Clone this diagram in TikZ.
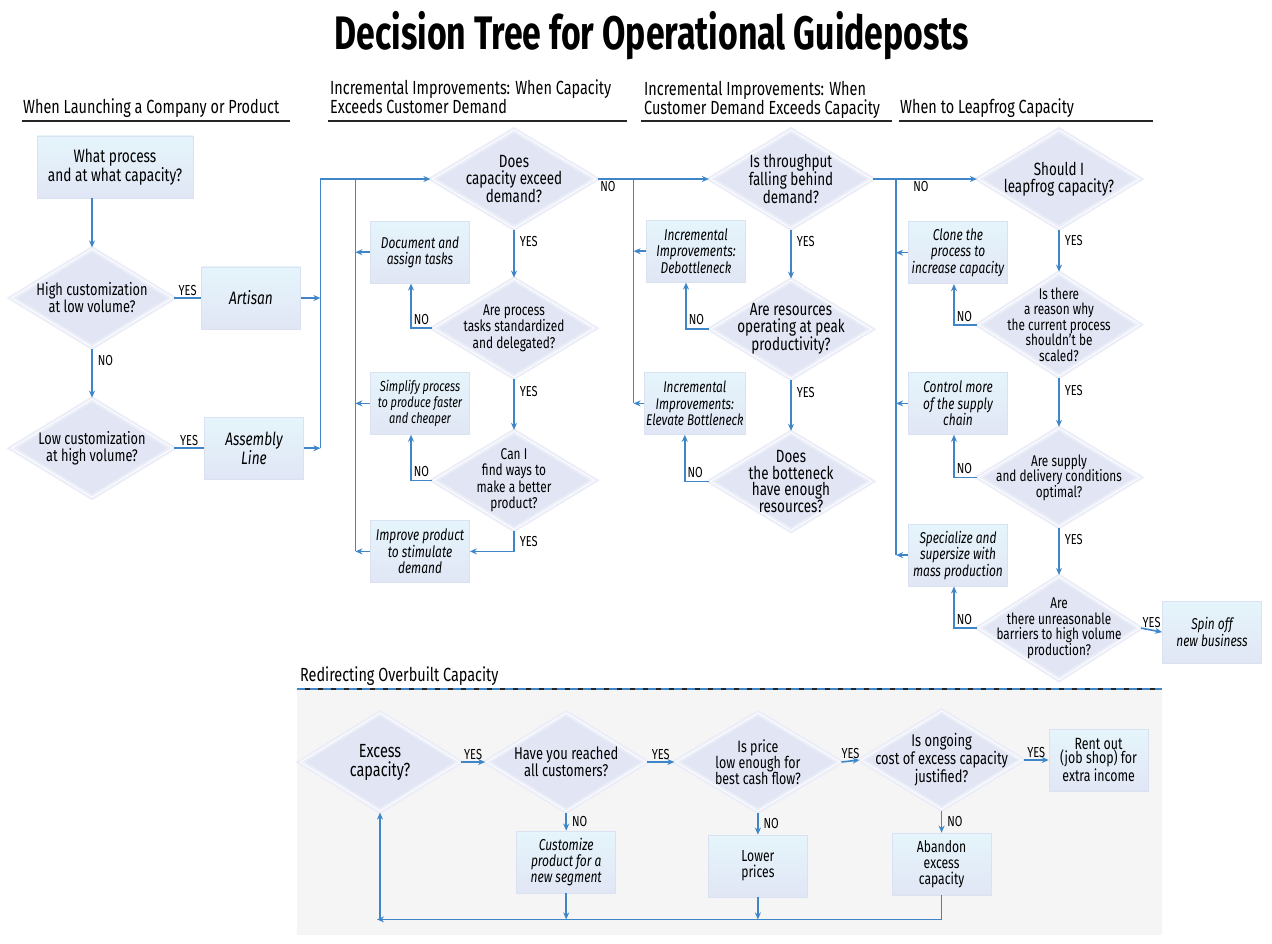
\documentclass[tikz,border=0pt]{standalone}
\usepackage{fontspec}
\setmainfont{Fira Sans}[FakeStretch=0.76]
\newfontfamily\titlefont{Fira Sans}[FakeStretch=0.72]
\usetikzlibrary{arrows.meta, calc, positioning, shapes.geometric}
\definecolor{flowblue}{RGB}{62,134,199}
\definecolor{diafill}{RGB}{226,230,244}
\definecolor{diaedge}{RGB}{235,238,248}
\definecolor{boxtop}{RGB}{229,245,251}
\definecolor{boxbot}{RGB}{225,230,245}
\definecolor{boxedge}{RGB}{218,225,242}
\definecolor{panelgray}{RGB}{245,245,246}
\tikzset{
  question/.style={diamond, aspect=1.65, fill=diafill, draw=diaedge,
    line width=2.2pt, double=white, double distance=0.8pt,
    inner sep=-40pt, minimum width=162pt, minimum height=99pt,
    align=center, font=\fontsize{17.7}{16.5}\selectfont},
  outcome/.style={rectangle, draw=boxedge, line width=0.8pt,
    top color=boxtop, bottom color=boxbot, minimum width=99pt,
    minimum height=62pt, inner sep=2pt, align=center,
    font=\fontsize{16}{16}\selectfont},
  action/.style={outcome, font=\fontsize{15.7}{16.5}\selectfont\itshape},
  reply/.style={inner sep=2pt, font=\fontsize{14.5}{14}\selectfont},
  heading/.style={anchor=south west, inner sep=0pt, align=left,
    font=\fontsize{19}{19}\selectfont},
  rule/.style={draw=black!85, line width=1.6pt},
  flowline/.style={draw=flowblue, line width=1.6pt},
  flowarrow/.style={flowline, -{Stealth[length=7pt, width=6pt]}},
}
\begin{document}
\begin{tikzpicture}[x=1pt, y=-1pt]
\useasboundingbox (0,0) rectangle (1272,944);
\node (title) [anchor=base] at (652,50) {\titlefont\bfseries\fontsize{47}{47}\selectfont Decision Tree for Operational Guideposts};

% section headings
\node (launchhead) [heading] at (23,118) {When Launching a Company or Product};
\node (surplushead) [heading] at (330,114) {Incremental Improvements: When Capacity\\Exceeds Customer Demand};
\node (shorthead) [heading] at (644,119) {Incremental Improvements: When\\Customer Demand Exceeds Capacity};
\node (leaphead) [heading] at (900,118) {When to Leapfrog Capacity};
\draw[rule] (22,121) -- (290,121);
\draw[rule] (328,121) -- (627,121);
\draw[rule] (641,121) -- (892,121);
\draw[rule] (899,121) -- (1153,121);

% launching a company or product
\node (launch) [outcome, minimum width=156pt, font=\fontsize{18}{17}\selectfont] at (115,167) {What process\\and at what capacity?};
\node (hilo) [question, below=49pt of launch, xshift=-23pt, font=\fontsize{16.8}{17}\selectfont] {High customization\\at low volume?};
\node (lohi) [question, below=49pt of hilo, font=\fontsize{16.8}{17}\selectfont] {Low customization\\at high volume?};
\node (artisan) [outcome, right=27pt of hilo, font=\fontsize{18}{19}\selectfont\itshape] {Artisan};
\node (assembly) [outcome, right=30pt of lohi, font=\fontsize{18}{19}\selectfont\itshape] {Assembly\\Line};
\draw[flowarrow] (launch.south -| hilo) -- (hilo.north);
\draw[flowline] (hilo.east) -- node[reply, above] {YES} (artisan.west);
\draw[flowarrow] (hilo.south) -- node[reply, right=3pt, pos=0.25] {NO} (lohi.north);
\draw[flowline] (lohi.east) -- node[reply, above] {YES} (assembly.west);

% capacity exceeds demand
\node (cap) [question, minimum width=165pt] at (514,179) {Does\\capacity exceed\\demand?};
\node (std) [question, below=48pt of cap, font=\fontsize{15.6}{16.5}\selectfont] {Are process\\tasks standardized\\and delegated?};
\node (better) [question, below=51pt of std, font=\fontsize{15.6}{16.5}\selectfont] {Can I\\find ways to\\make a better\\product?};
\node (doc) [action, left=-38pt of std, yshift=76pt] {Document and\\assign tasks};
\node (simplify) [action, left=-38pt of better, yshift=77pt, font=\fontsize{14.5}{16}\selectfont\itshape] {Simplify process\\to produce faster\\and cheaper};
\node (improve) [action, left=-38pt of better, yshift=-71pt] {Improve product\\to stimulate\\demand};
\coordinate (j1) at ($(cap.west)+(-110,0)$);
\coordinate (j2) at ($(cap.west)+(-75,0)$);
\draw[flowarrow] (artisan.east) -- (artisan.east -| j1);
\draw[flowarrow] (assembly.east) -- (assembly.east -| j1);
\draw[flowarrow] (assembly.east -| j1) -- (j1) -- (cap.west);
\draw[flowline] (j2) -- (j2 |- improve.west);
\draw[flowarrow] (doc.west) -- (doc.west -| j2);
\draw[flowarrow] (simplify.west) -- (simplify.west -| j2);
\draw[flowarrow] (improve.west) -- (improve.west -| j2);
\draw[flowarrow] (cap.south) -- node[reply, right=3pt, pos=0.25] {YES} (std.north);
\draw[flowarrow] (std.west) -| node[reply, right, pos=0.6] {NO} ([xshift=-9pt]doc.south);
\draw[flowarrow] (std.south) -- node[reply, right=3pt, pos=0.25] {YES} (better.north);
\draw[flowarrow] (better.west) -| node[reply, right, pos=0.6] {NO} ([xshift=-9pt]simplify.south);
\draw[flowarrow] (better.south) |- node[reply, right=3pt, pos=0.25] {YES} (improve.east);

% demand exceeds capacity
\node (thru) [question] at (791,179) {Is throughput\\falling behind\\demand?};
\node (peak) [question, below=49pt of thru] {Are resources\\operating at peak\\productivity?};
\node (bneck) [question, below=51pt of peak] {Does\\the botteneck\\have enough\\resources?};
\node (debottle) [action, left=-37pt of peak, yshift=78pt] {Incremental\\Improvements:\\Debottleneck};
\node (elevate) [action, left=-37pt of bneck, yshift=78pt, font=\fontsize{15.5}{16.5}\selectfont\itshape] {Incremental\\Improvements:\\Elevate Bottleneck};
\coordinate (j3) at ($(cap.east)+(36,0)$);
\draw[flowarrow] (cap.east) -- node[reply, below right, pos=0.0] {NO} (thru.west);
\draw[flowline] (j3) -- (j3 |- elevate.west);
\draw[flowarrow] (debottle.west) -- (debottle.west -| j3);
\draw[flowarrow] (elevate.west) -- (elevate.west -| j3);
\draw[flowarrow] (thru.south) -- node[reply, right=3pt, pos=0.25] {YES} (peak.north);
\draw[flowarrow] (peak.west) -| node[reply, right, pos=0.6] {NO} ([xshift=-10pt]debottle.south);
\draw[flowarrow] (peak.south) -- node[reply, right=3pt, pos=0.25] {YES} (bneck.north);
\draw[flowarrow] (bneck.west) -| node[reply, right, pos=0.6] {NO} ([xshift=-10pt]elevate.south);

% leapfrog capacity
\node (leap) [question] at (1059,179) {Should I\\leapfrog capacity?};
\node (reason) [question, minimum height=104pt, below=42pt of leap, font=\fontsize{15.5}{15.5}\selectfont] {Is there\\a reason why\\the current process\\shouldn’t be\\scaled?};
\node (supply) [question, below=49pt of reason, font=\fontsize{15.5}{15.5}\selectfont] {Are supply\\and delivery conditions\\optimal?};
\node (barrier) [question, minimum height=104pt, below=47pt of supply, font=\fontsize{15.5}{15.5}\selectfont] {Are\\there unreasonable\\barriers to high volume\\production?};
\node (clone) [action, left=-31pt of reason, yshift=72pt] {Clone the\\process to\\increase capacity};
\node (control) [action, left=-31pt of supply, yshift=74pt] {Control more\\of the supply\\chain};
\node (special) [action, left=-31pt of barrier, yshift=73pt] {Specialize and\\supersize with\\mass production};
\node (spin) [action, right=21pt of barrier, yshift=-4pt] {Spin off\\new business};
\coordinate (j4) at ($(thru.east)+(23,0)$);
\draw[flowarrow] (thru.east) -- node[reply, below right, pos=0.36] {NO} (leap.west);
\draw[flowline] (j4) -- (j4 |- special.west);
\draw[flowarrow] (clone.west) -- (clone.west -| j4);
\draw[flowarrow] (control.west) -- (control.west -| j4);
\draw[flowarrow] (special.west) -- (special.west -| j4);
\draw[flowarrow] (leap.south) -- node[reply, right=3pt, pos=0.25] {YES} (reason.north);
\draw[flowarrow] (reason.west) -| node[reply, right, pos=0.6] {NO} ([xshift=-4pt]clone.south);
\draw[flowarrow] (reason.south) -- node[reply, right=3pt, pos=0.25] {YES} (supply.north);
\draw[flowarrow] (supply.west) -| node[reply, right, pos=0.6] {NO} ([xshift=-4pt]control.south);
\draw[flowarrow] (supply.south) -- node[reply, right=3pt, pos=0.25] {YES} (barrier.north);
\draw[flowarrow] (barrier.west) -| node[reply, right, pos=0.6] {NO} ([xshift=-4pt]special.south);
\draw[flowarrow] (barrier.east) -- node[reply, above] {YES} (spin.west);

% redirecting overbuilt capacity
\fill[panelgray] (297,690) rectangle (1162,935);
\node (redirhead) [heading] at (300,686) {Redirecting Overbuilt Capacity};
\draw[rule, line width=1.3pt] (297,689) -- (1162,689);
\draw[flowblue, line width=2.8pt, dash pattern=on 8pt off 5pt] (297,689) -- (1162,689);
\node (excess) [question, minimum width=160pt, font=\fontsize{19}{19}\selectfont] at (380,762) {Excess\\capacity?};
\node (reach) [question, minimum width=160pt, right=24pt of excess, font=\fontsize{17}{17}\selectfont] {Have you reached\\all customers?};
\node (price) [question, minimum width=165pt, right=27pt of reach, font=\fontsize{16.4}{16}\selectfont] {Is price\\low enough for\\best cash flow?};
\node (ongoing) [question, right=18pt of price, yshift=2pt, font=\fontsize{17}{15}\selectfont] {Is ongoing\\cost of excess capacity\\justified?};
\node (rent) [outcome, right=25pt of ongoing, font=\fontsize{16.3}{14}\selectfont] {Rent out\\(job shop) for\\extra income};
\node (custom) [action, below=18pt of reach, font=\fontsize{15.8}{16}\selectfont\itshape] {Customize\\product for a\\new segment};
\node (lower) [outcome, below=22pt of price] {Lower\\prices};
\node (abandon) [outcome, below=22pt of ongoing] {Abandon\\excess\\capacity};
\coordinate (base) at ($(abandon.south)+(0,24)$);
\draw[flowarrow] (excess.east) -- node[reply, above] {YES} (reach.west);
\draw[flowarrow] (reach.east) -- node[reply, above] {YES} (price.west);
\draw[flowarrow] (price.east) -- node[reply, above] {YES} (ongoing.west);
\draw[flowarrow] (ongoing.east) -- node[reply, above] {YES} (rent.west);
\draw[flowarrow] (reach.south) -- node[reply, right=3pt] {NO} (custom.north);
\draw[flowarrow] (price.south) -- node[reply, right=3pt] {NO} (lower.north);
\draw[flowarrow] (ongoing.south) -- node[reply, right=3pt] {NO} (abandon.north);
\draw[flowarrow] (abandon.south) -- (base) -- ([xshift=-3pt]base -| excess);
\draw[flowarrow] (base -| excess) -- (excess.south);
\draw[flowarrow] (custom.south) -- (custom.south |- base);
\draw[flowarrow] (lower.south) -- (lower.south |- base);
\end{tikzpicture}
\end{document}
